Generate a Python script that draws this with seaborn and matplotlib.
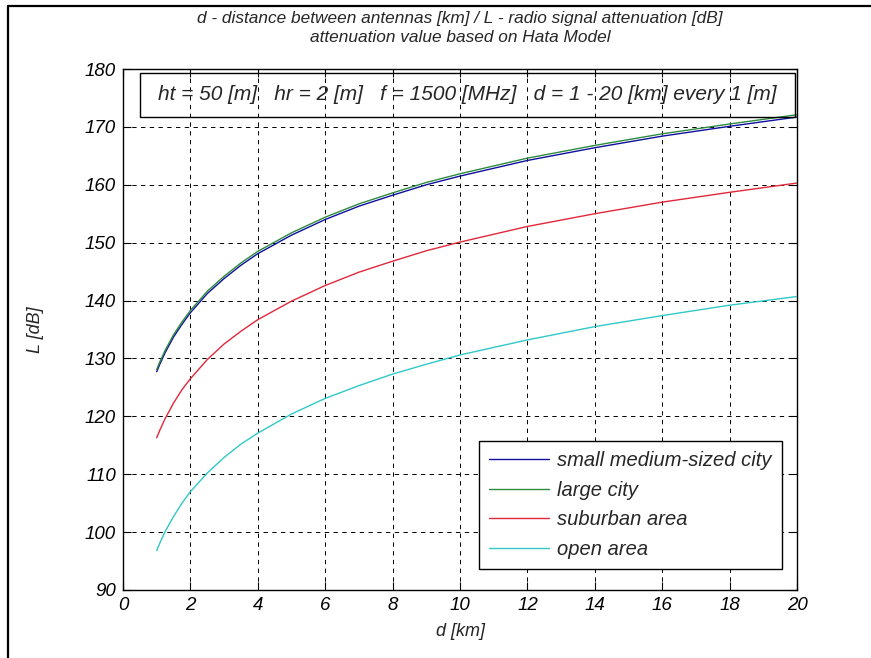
import numpy as np
import pandas as pd
import matplotlib
matplotlib.use("Agg")
import matplotlib.pyplot as plt
from matplotlib.lines import Line2D
from matplotlib.patches import Rectangle
import seaborn as sns

# ---- data ----
d_km = [1, 1.1, 1.25, 1.5, 1.75, 2, 2.5, 3, 3.5, 4, 5, 6, 7, 8, 9, 10, 12, 14, 16, 18, 20]
small_city = [127.7, 129.1, 131.0, 133.7, 135.9, 137.9, 141.2, 143.8, 146.1, 148.1, 151.3, 154.0, 156.3,
              158.2, 160.0, 161.5, 164.2, 166.4, 168.4, 170.1, 171.7]
large_city = [128.1, 129.5, 131.4, 134.1, 136.3, 138.3, 141.6, 144.2, 146.5, 148.5, 151.7, 154.4, 156.7,
              158.6, 160.4, 161.9, 164.6, 166.8, 168.8, 170.5, 172.1]
suburban = [116.3, 117.7, 119.6, 122.3, 124.6, 126.5, 129.8, 132.5, 134.7, 136.7, 139.9, 142.6, 144.9,
            146.8, 148.6, 150.1, 152.8, 155.0, 157.0, 158.7, 160.3]
open_area = [96.8, 98.2, 100.1, 102.7, 105.0, 107.0, 110.2, 112.9, 115.2, 117.1, 120.4, 123.1, 125.3,
             127.3, 129.0, 130.6, 133.2, 135.5, 137.4, 139.2, 140.7]
series_names = ["small medium-sized city", "large city", "suburban area", "open area"]
series_colors = ["#1010a0", "#2e8b3e", "#e0283a", "#30c8c8"]
x_ticks = [0, 2, 4, 6, 8, 10, 12, 14, 16, 18, 20]
y_ticks = [90, 100, 110, 120, 130, 140, 150, 160, 170, 180]
title_lines = ["d - distance between antennas [km] / L - radio signal attenuation [dB]",
               "attenuation value based on Hata Model"]
info_text = "ht = 50 [m]   hr = 2 [m]   f = 1500 [MHz]   d = 1 - 20 [km] every 1 [m]"

frames = []
for name, vals in zip(series_names, [small_city, large_city, suburban, open_area]):
    frames.append(pd.DataFrame({"d": d_km, "L": vals, "area": name}))
df = pd.concat(frames, ignore_index=True)

sns.set_style("white")
plt.rcParams["font.family"] = ["Liberation Sans", "DejaVu Sans"]
plt.rcParams["font.style"] = "italic"

W, H = 871, 658
fig = plt.figure(figsize=(W / 100, H / 100), dpi=100)
fig.patch.set_facecolor("white")
L, R, T, B = 123, 797, 69, 590
ax = fig.add_axes([L / W, 1 - B / H, (R - L) / W, (B - T) / H])

sns.lineplot(data=df, x="d", y="L", hue="area", hue_order=series_names,
             palette=dict(zip(series_names, series_colors)), estimator=None,
             sort=False, linewidth=1.0, ax=ax, legend=False, zorder=3)

ax.set_xlim(0, 20)
ax.set_ylim(90, 180)
ax.set_xticks(x_ticks)
ax.set_yticks(y_ticks)
ax.set_xticklabels([str(v) for v in x_ticks], fontsize=13.5, style="italic")
ax.set_yticklabels([str(v) for v in y_ticks], fontsize=13.5, style="italic")
ax.tick_params(direction="in", length=5.5, width=0.8, top=True, right=True,
               bottom=True, left=True, pad=5, colors="black")
ax.grid(True, color="black", linestyle=(0, (4.5, 4.5)), linewidth=0.7, zorder=1)
ax.set_axisbelow(True)
for s in ax.spines.values():
    s.set_color("black")
    s.set_linewidth(1.0)
    s.set_visible(True)
ax.set_xlabel("")
ax.set_ylabel("")

# info box
ax.add_patch(Rectangle(((140 - L) / (R - L), 1 - (117 - T) / (B - T)),
                       (795 - 140) / (R - L), (117 - 73) / (B - T),
                       transform=ax.transAxes, facecolor="none", edgecolor="black",
                       linewidth=1.0, zorder=4))
ax.text(((140 + 795) / 2 - L) / (R - L), 1 - (95 - T) / (B - T), info_text,
        transform=ax.transAxes, ha="center", va="center", fontsize=15,
        style="italic", zorder=5)

# legend
handles = [Line2D([0], [0], color=c, lw=1.0) for c in series_colors]
leg = ax.legend(handles, series_names, loc="upper right",
                bbox_to_anchor=((782 - L) / (R - L), (B - 441) / (B - T)),
                fontsize=14.5, frameon=True, fancybox=False, framealpha=1,
                edgecolor="black", facecolor="white", borderpad=0.5,
                labelspacing=0.53, handlelength=3.0, handletextpad=0.4,
                borderaxespad=0)
leg.get_frame().set_linewidth(1.0)
for t in leg.get_texts():
    t.set_style("italic")
leg.set_zorder(6)

# titles and axis labels
fig.text(460 / W, 1 - 18 / H, title_lines[0], ha="center", va="center", fontsize=12.4, style="italic")
fig.text(460 / W, 1 - 38 / H, title_lines[1], ha="center", va="center", fontsize=12.4, style="italic")
fig.text(460 / W, 1 - 632 / H, "d [km]", ha="center", va="center", fontsize=13, style="italic")
fig.text(35 / W, 1 - 330 / H, "L [dB]", ha="center", va="center", rotation=90, fontsize=13, style="italic")

# outer border (left and top edges of the screenshot frame)
fig.add_artist(Line2D([8 / W, 8 / W], [0, 1 - 6 / H], color="black", lw=1.6, transform=fig.transFigure))
fig.add_artist(Line2D([8 / W, 1], [1 - 6 / H, 1 - 6 / H], color="black", lw=1.6, transform=fig.transFigure))

fig.savefig("out.png", dpi=100, facecolor="white")
